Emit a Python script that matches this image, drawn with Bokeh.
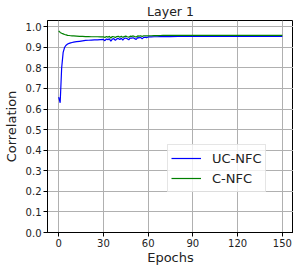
from bokeh.plotting import figure
from bokeh.models import FixedTicker, PrintfTickFormatter, Legend, LegendItem, Range1d
from bokeh.embed import file_html
from bokeh.resources import INLINE

title_text = "Layer 1"
x_label = "Epochs"
y_label = "Correlation"
series_names = ["UC-NFC", "C-NFC"]
xticks = [0, 30, 60, 90, 120, 150]
yticks = [0.0, 0.1, 0.2, 0.3, 0.4, 0.5, 0.6, 0.7, 0.8, 0.9, 1.0]

epochs = [0, 1, 2, 3, 4, 5, 6, 7, 8, 9, 10, 12, 14, 16, 18, 20, 22, 24, 26, 28,
          30, 31, 32, 33, 34, 35, 36, 37, 38, 39, 40, 41, 42, 43, 44, 45, 46, 47, 48, 49,
          50, 51, 52, 53, 54, 55, 56, 57, 58, 59, 60, 62, 64, 66, 68, 70, 75, 80, 85, 90,
          95, 100, 105, 110, 115, 120, 125, 130, 135, 140, 145, 150]

uc_nfc = [0.658, 0.630, 0.800, 0.875, 0.900, 0.910, 0.916, 0.919, 0.921, 0.923, 0.925,
          0.927, 0.929, 0.931, 0.933, 0.934, 0.935, 0.936, 0.936, 0.937,
          0.938, 0.932, 0.940, 0.937, 0.941, 0.930, 0.940, 0.942, 0.933, 0.941,
          0.943, 0.938, 0.944, 0.935, 0.943, 0.945, 0.941, 0.936, 0.945, 0.944,
          0.946, 0.942, 0.938, 0.947, 0.946, 0.948, 0.941, 0.948, 0.949, 0.947,
          0.950, 0.950, 0.951, 0.951, 0.952, 0.952, 0.952, 0.953, 0.953, 0.953,
          0.953, 0.953, 0.953, 0.953, 0.953, 0.953, 0.953, 0.953, 0.953, 0.953, 0.953, 0.953]

c_nfc = [0.980, 0.972, 0.968, 0.965, 0.962, 0.960, 0.958, 0.957, 0.956, 0.955, 0.955,
         0.954, 0.953, 0.953, 0.952, 0.952, 0.951, 0.951, 0.951, 0.950,
         0.951, 0.947, 0.952, 0.949, 0.953, 0.945, 0.952, 0.951, 0.947, 0.952,
         0.953, 0.949, 0.953, 0.948, 0.952, 0.954, 0.951, 0.949, 0.954, 0.953,
         0.955, 0.952, 0.950, 0.955, 0.954, 0.956, 0.952, 0.956, 0.956, 0.955,
         0.956, 0.956, 0.957, 0.957, 0.957, 0.958, 0.958, 0.958, 0.958, 0.958,
         0.958, 0.958, 0.958, 0.958, 0.958, 0.958, 0.958, 0.958, 0.958, 0.958, 0.958, 0.958]

FONT = "DejaVu Sans"

p = figure(width=293, height=267, output_backend="svg", toolbar_location=None,
           x_range=Range1d(-7.5, 157.5), y_range=Range1d(0.0, 1.03),
           min_border_left=46, min_border_right=0, min_border_top=0, min_border_bottom=34,
           title=title_text)
p.title.align = "center"
p.title.text_font = FONT
p.title.text_font_size = "12.5px"
p.title.text_font_style = "normal"
p.title.text_color = "#222222"
p.title.standoff = 3
p.title.offset = 0

l1 = p.line(epochs, uc_nfc, line_color="blue", line_width=1.2)
l2 = p.line(epochs, c_nfc, line_color="green", line_width=1.2)

for ax in (p.xaxis[0], p.yaxis[0]):
    ax.major_tick_out = 4
    ax.major_tick_in = 0
    ax.minor_tick_line_color = None
    ax.major_label_text_font = FONT
    ax.major_label_text_font_size = "10px"
    ax.major_label_text_color = "#222222"
    ax.axis_label_text_font = FONT
    ax.axis_label_text_font_size = "13px"
    ax.axis_label_text_font_style = "normal"
    ax.axis_label_text_color = "#222222"
    ax.axis_line_color = "black"
    ax.major_tick_line_color = "black"
    ax.major_label_standoff = 2

p.xaxis.ticker = FixedTicker(ticks=xticks)
p.yaxis.ticker = FixedTicker(ticks=yticks)
p.yaxis.formatter = PrintfTickFormatter(format="%.1f")
p.xaxis.axis_label = x_label
p.yaxis.axis_label = y_label
p.xaxis.axis_label_standoff = 0
p.yaxis.axis_label_standoff = 4

p.xgrid.ticker = FixedTicker(ticks=xticks)
p.ygrid.ticker = FixedTicker(ticks=yticks)
p.grid.grid_line_color = "#b0b0b0"
p.grid.grid_line_width = 1
p.outline_line_color = "black"
p.outline_line_width = 1

legend = Legend(items=[LegendItem(label=series_names[0], renderers=[l1]),
                       LegendItem(label=series_names[1], renderers=[l2])],
                location=(120, 40), label_text_font=FONT,
                label_text_font_size="13px", label_text_color="#222222",
                glyph_width=30, glyph_height=20, label_height=20, label_standoff=11,
                padding=3, spacing=0, margin=0,
                border_line_color="#cccccc", background_fill_alpha=0.8)
p.add_layout(legend)

open("out.html", "w").write(file_html(p, INLINE))
